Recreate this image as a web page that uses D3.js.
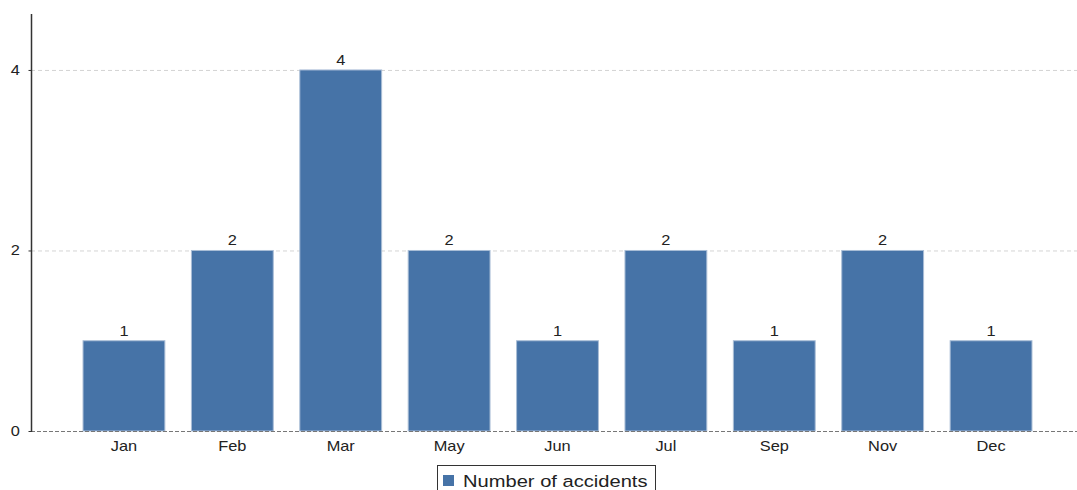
<!DOCTYPE html>
<html>
<head>
<meta charset="utf-8">
<script src="https://cdn.jsdelivr.net/npm/d3@7"></script>
<style>
  body { margin: 0; background: #fff; }
  svg { font-family: "Liberation Sans", Arial, sans-serif; }
</style>
</head>
<body>
<script>
const months = ['Jan', 'Feb', 'Mar', 'May', 'Jun', 'Jul', 'Sep', 'Nov', 'Dec']
const accidents = [1, 2, 4, 2, 1, 2, 1, 2, 1]
const yTicks = [0, 2, 4]
const seriesName = 'Number of accidents'

const W = 1077, H = 490
const plotLeft = 31, plotRight = 1084, plotTop = 14, plotBottom = 431
const stretch = 1.17 // the source picture is a little wide

const svg = d3.select('body').append('svg')
  .attr('width', W)
  .attr('height', H)

const x = d3.scaleBand().domain(months).range([plotLeft, plotRight])
  .paddingInner(0.245).paddingOuter(0.48)
const y = d3.scaleLinear().domain([0, 4.62]).range([plotBottom, plotTop])

// grid
svg.append('g').selectAll('line')
  .data(yTicks.filter(d => d > 0))
  .enter().append('line')
  .attr('x1', plotLeft).attr('x2', W)
  .attr('y1', d => y(d) + 0.5).attr('y2', d => y(d) + 0.5)
  .attr('stroke', '#d4d4d4')
  .attr('stroke-dasharray', '4,3')

// bars
svg.append('g').selectAll('rect')
  .data(accidents)
  .enter().append('rect')
  .attr('x', (d, i) => x(months[i]))
  .attr('y', d => y(d))
  .attr('width', x.bandwidth())
  .attr('height', d => y(0) - y(d))
  .attr('fill', '#4673a7')
  .attr('stroke', '#a9bdd6')
  .attr('stroke-width', 1)

// value labels
svg.append('g').selectAll('text')
  .data(accidents)
  .enter().append('text')
  .attr('transform', (d, i) =>
    `translate(${x(months[i]) + x.bandwidth() / 2},${y(d) - 5}) scale(${stretch},1)`)
  .attr('text-anchor', 'middle')
  .attr('font-size', 14)
  .attr('fill', '#222')
  .text(d => d)

// zero line
svg.append('line')
  .attr('x1', plotLeft).attr('x2', W)
  .attr('y1', y(0) + 0.5).attr('y2', y(0) + 0.5)
  .attr('stroke', '#777')
  .attr('stroke-dasharray', '4,2')

// y axis
const yAxis = svg.append('g')
  .attr('transform', `translate(${plotLeft + 0.5},0)`)
  .call(d3.axisLeft(y).tickValues(yTicks).tickFormat(d3.format('d')).tickSize(3).tickPadding(7))
yAxis.select('.domain').remove()
yAxis.append('line')
  .attr('y1', plotTop).attr('y2', plotBottom + 1)
  .attr('stroke', '#333').attr('stroke-width', 1.5)
yAxis.selectAll('.tick line').attr('stroke', '#333')
yAxis.selectAll('.tick text')
  .attr('font-size', 14).attr('fill', '#222')
  .attr('font-family', '"Liberation Sans", Arial, sans-serif')
  .attr('transform', `scale(${stretch},1)`)

// x labels
const xAxis = svg.append('g')
  .attr('transform', `translate(0,${plotBottom})`)
  .call(d3.axisBottom(x).tickSize(0).tickPadding(10))
xAxis.select('.domain').remove()
xAxis.selectAll('.tick text')
  .attr('font-size', 14).attr('fill', '#222')
  .attr('font-family', '"Liberation Sans", Arial, sans-serif')
  .attr('transform', `scale(${stretch},1)`)

// legend
const lg = svg.append('g').attr('transform', 'translate(437,465)')
lg.append('rect')
  .attr('x', 0.5).attr('y', 0.5)
  .attr('width', 218).attr('height', 40)
  .attr('fill', '#fff').attr('stroke', '#333')
lg.append('rect')
  .attr('x', 6).attr('y', 10)
  .attr('width', 11).attr('height', 11)
  .attr('fill', '#4673a7')
lg.append('text')
  .attr('transform', 'translate(26,22) scale(1.22,1)')
  .attr('font-size', 16.5).attr('fill', '#222')
  .text(seriesName)
</script>
</body>
</html>
